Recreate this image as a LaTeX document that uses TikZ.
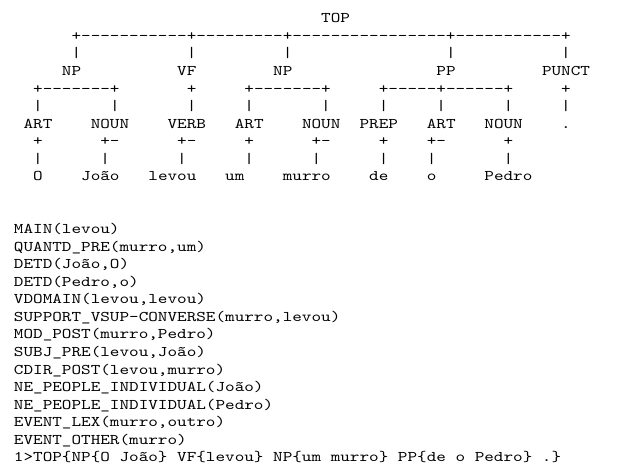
\documentclass[tikz,border=0pt]{standalone}
\usepackage{fontspec}
\usepackage{tikz}
\newfontfamily\parsefont[FakeStretch=1.2355]{lmmono10-regular.otf}

\begin{document}
\begin{tikzpicture}[x=9.6pt, y=-17.56pt,
  tok/.style={anchor=base west, inner sep=0pt, outer sep=0pt,
    font=\parsefont\fontsize{14.8pt}{17.56pt}\selectfont}]
\path[use as bounding box, fill=white] (-1.4583,-1.2984) rectangle (64.0625,25.3531);
% tree
\node[tok] (TOP) at (32, 0) {TOP};
\node[tok] (top-bar) at (6, 1) {+-----------+---------+----------------+-----------+};
\node[tok] (v-NP1) at (6, 2) {|};
\node[tok] (v-VF) at (18, 2) {|};
\node[tok] (v-NP2) at (28, 2) {|};
\node[tok] (v-PP) at (45, 2) {|};
\node[tok] (v-PUNCT) at (57, 2) {|};
\node[tok] (NP1) at (5, 3) {NP};
\node[tok] (VF) at (17, 3) {VF};
\node[tok] (NP2) at (27, 3) {NP};
\node[tok] (PP) at (44, 3) {PP};
\node[tok] (PUNCT) at (55, 3) {PUNCT};
\node[tok] (h-NP1) at (2, 4) {+-------+};
\node[tok] (h-VF) at (18, 4) {+};
\node[tok] (h-NP2) at (24, 4) {+-------+};
\node[tok] (h-PP) at (38, 4) {+-----+------+};
\node[tok] (h-PUNCT) at (57, 4) {+};
\node[tok] (v-ART1) at (2, 5) {|};
\node[tok] (v-NOUN1) at (10, 5) {|};
\node[tok] (v-VERB) at (18, 5) {|};
\node[tok] (v-ART2) at (24, 5) {|};
\node[tok] (v-NOUN2) at (32, 5) {|};
\node[tok] (v-PREP) at (38, 5) {|};
\node[tok] (v-ART3) at (44, 5) {|};
\node[tok] (v-NOUN3) at (51, 5) {|};
\node[tok] (v-dot) at (57, 5) {|};
\node[tok] (ART1) at (1, 6) {ART};
\node[tok] (NOUN1) at (8, 6) {NOUN};
\node[tok] (VERB) at (16, 6) {VERB};
\node[tok] (ART2) at (23, 6) {ART};
\node[tok] (NOUN2) at (30, 6) {NOUN};
\node[tok] (PREP) at (36, 6) {PREP};
\node[tok] (ART3) at (43, 6) {ART};
\node[tok] (NOUN3) at (49, 6) {NOUN};
\node[tok] (dot) at (57, 6) {.};
\node[tok] (p-ART1) at (2, 7) {+};
\node[tok] (p-NOUN1) at (9, 7) {+-};
\node[tok] (p-VERB) at (17, 7) {+-};
\node[tok] (p-ART2) at (24, 7) {+};
\node[tok] (p-NOUN2) at (31, 7) {+-};
\node[tok] (p-PREP) at (38, 7) {+};
\node[tok] (p-ART3) at (43, 7) {+-};
\node[tok] (p-NOUN3) at (51, 7) {+};
\node[tok] (w-ART1) at (2, 8) {|};
\node[tok] (w-NOUN1) at (9, 8) {|};
\node[tok] (w-VERB) at (17, 8) {|};
\node[tok] (w-ART2) at (24, 8) {|};
\node[tok] (w-NOUN2) at (31, 8) {|};
\node[tok] (w-PREP) at (38, 8) {|};
\node[tok] (w-ART3) at (43, 8) {|};
\node[tok] (w-NOUN3) at (51, 8) {|};
\node[tok] (O) at (2, 9) {O};
\node[tok] (Joao) at (7, 9) {João};
\node[tok] (levou) at (14, 9) {levou};
\node[tok] (um) at (22, 9) {um};
\node[tok] (murro) at (28, 9) {murro};
\node[tok] (de) at (37, 9) {de};
\node[tok] (o) at (43, 9) {o};
\node[tok] (Pedro) at (49, 9) {Pedro};
% dependencies
\node[tok] (dep1) at (0, 12) {MAIN(levou)};
\node[tok] (dep2) at (0, 13) {QUANTD\_PRE(murro,um)};
\node[tok] (dep3) at (0, 14) {DETD(João,O)};
\node[tok] (dep4) at (0, 15) {DETD(Pedro,o)};
\node[tok] (dep5) at (0, 16) {VDOMAIN(levou,levou)};
\node[tok] (dep6) at (0, 17) {SUPPORT\_VSUP-CONVERSE(murro,levou)};
\node[tok] (dep7) at (0, 18) {MOD\_POST(murro,Pedro)};
\node[tok] (dep8) at (0, 19) {SUBJ\_PRE(levou,João)};
\node[tok] (dep9) at (0, 20) {CDIR\_POST(levou,murro)};
\node[tok] (dep10) at (0, 21) {NE\_PEOPLE\_INDIVIDUAL(João)};
\node[tok] (dep11) at (0, 22) {NE\_PEOPLE\_INDIVIDUAL(Pedro)};
\node[tok] (dep12) at (0, 23) {EVENT\_LEX(murro,outro)};
\node[tok] (dep13) at (0, 24) {EVENT\_OTHER(murro)};
\node[tok] (chunks) at (0, 25) {1>TOP\{NP\{O João\} VF\{levou\} NP\{um murro\} PP\{de o Pedro\} .\}};
\end{tikzpicture}
\end{document}
